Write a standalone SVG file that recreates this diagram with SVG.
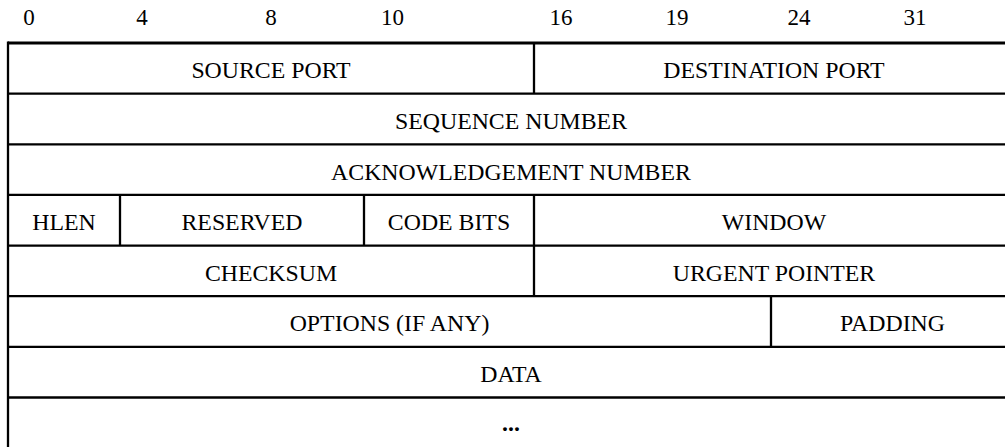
<svg xmlns="http://www.w3.org/2000/svg" width="1005" height="447" viewBox="0 0 1005 447">
<style>
.t{font-family:"Liberation Serif","Times New Roman",serif;font-size:23.8px;fill:#000;text-anchor:middle}
.h{font-size:23px}
.l{stroke:#000;stroke-width:2.3;fill:none}
</style>
<rect width="1005" height="447" fill="#fff"/>
<g id="header">
<text class="t h" x="29" y="25">0</text>
<text class="t h" x="142" y="25">4</text>
<text class="t h" x="271" y="25">8</text>
<text class="t h" x="392.5" y="25">10</text>
<text class="t h" x="561" y="25">16</text>
<text class="t h" x="677" y="25">19</text>
<text class="t h" x="799" y="25">24</text>
<text class="t h" x="915" y="25">31</text>
</g>
<g id="grid">
<line class="l" x1="8" y1="43" x2="1005" y2="43" style="stroke-width:3"/>
<line class="l" x1="8" y1="93.6" x2="1005" y2="93.6"/>
<line class="l" x1="8" y1="144.3" x2="1005" y2="144.3"/>
<line class="l" x1="8" y1="194.9" x2="1005" y2="194.9"/>
<line class="l" x1="8" y1="245.6" x2="1005" y2="245.6"/>
<line class="l" x1="8" y1="296.2" x2="1005" y2="296.2"/>
<line class="l" x1="8" y1="346.8" x2="1005" y2="346.8"/>
<line class="l" x1="8" y1="397.5" x2="1005" y2="397.5"/>
<line class="l" x1="8" y1="41.5" x2="8" y2="447"/>
<line class="l" x1="534" y1="43" x2="534" y2="93.6"/>
<line class="l" x1="120" y1="194.9" x2="120" y2="245.6"/>
<line class="l" x1="364" y1="194.9" x2="364" y2="245.6"/>
<line class="l" x1="534" y1="194.9" x2="534" y2="296.2"/>
<line class="l" x1="771" y1="296.2" x2="771" y2="346.8"/>
</g>
<g id="source-port"><text class="t" x="271" y="78">SOURCE PORT</text></g>
<g id="destination-port"><text class="t" x="774" y="78">DESTINATION PORT</text></g>
<g id="sequence-number"><text class="t" x="511" y="128.8">SEQUENCE NUMBER</text></g>
<g id="ack-number"><text class="t" x="511" y="179.5">ACKNOWLEDGEMENT NUMBER</text></g>
<g id="hlen"><text class="t" x="64" y="230.1">HLEN</text></g>
<g id="reserved"><text class="t" x="242" y="230.1">RESERVED</text></g>
<g id="code-bits"><text class="t" x="449" y="230.1">CODE BITS</text></g>
<g id="window"><text class="t" x="774" y="230.1">WINDOW</text></g>
<g id="checksum"><text class="t" x="271" y="280.8">CHECKSUM</text></g>
<g id="urgent-pointer"><text class="t" x="774" y="280.8">URGENT POINTER</text></g>
<g id="options"><text class="t" x="389.5" y="331.4">OPTIONS (IF ANY)</text></g>
<g id="padding"><text class="t" x="892.5" y="331.4">PADDING</text></g>
<g id="data"><text class="t" x="511" y="382">DATA</text></g>
<g id="ellipsis"><text class="t" x="511" y="431" font-weight="bold">...</text></g>
<g id="connectors"/>
</svg>
